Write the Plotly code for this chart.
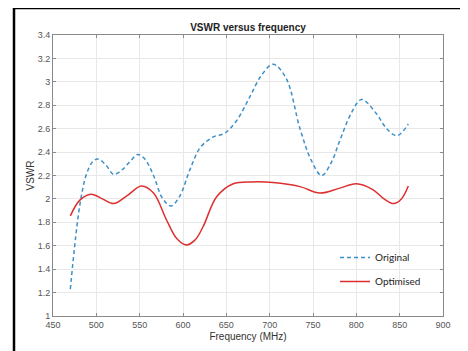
import plotly.graph_objects as go

# ---- data ----
freq_orig = [470, 481, 489, 496, 502, 511, 520, 530, 540, 548, 556, 566, 576, 586, 596, 608, 620, 635, 648, 662, 677, 690, 704, 719, 735, 748, 760, 771, 781, 794, 806, 823, 835, 847, 860]
vswr_orig = [1.23, 1.95, 2.22, 2.32, 2.34, 2.29, 2.21, 2.25, 2.33, 2.38, 2.34, 2.2, 2.01, 1.94, 2.02, 2.25, 2.44, 2.53, 2.56, 2.67, 2.87, 3.05, 3.15, 3.03, 2.6, 2.33, 2.2, 2.31, 2.5, 2.73, 2.85, 2.73, 2.6, 2.54, 2.64]

freq_opt = [470, 481, 494, 507, 520, 536, 552, 566, 581, 593, 604, 614, 623, 639, 658, 680, 704, 735, 758, 780, 800, 819, 832, 843, 852, 860]
vswr_opt = [1.855, 1.99, 2.04, 2.0, 1.96, 2.03, 2.11, 2.05, 1.82, 1.66, 1.607, 1.65, 1.76, 2.02, 2.13, 2.145, 2.14, 2.105, 2.05, 2.09, 2.13, 2.08, 2.0, 1.96, 2.0, 2.11]

x_ticks = [450, 500, 550, 600, 650, 700, 750, 800, 850, 900]
y_ticks = [1, 1.2, 1.4, 1.6, 1.8, 2, 2.2, 2.4, 2.6, 2.8, 3, 3.2, 3.4]
y_labels = ["1", "1.2", "1.4", "1.6", "1.8", "2", "2.2", "2.4", "2.6", "2.8", "3", "3.2", "3.4"]

# page has an 8px body margin, so the figure starts at (8, 8)
OFF = 8
W, H = 468 - OFF, 351 - OFF
L, T = 53 - OFF, 35 - OFF
pw, ph = 390, 281
R = W - L - pw
B = H - T - ph

def px_x(p):  # page pixel -> paper x
    return (p - OFF - L) / pw

def px_y(p):  # page pixel -> paper y
    return (OFF + T + ph - p) / ph

fig = go.Figure()
fig.add_trace(go.Scatter(
    x=freq_orig, y=vswr_orig, mode="lines", name="Original",
    line=dict(color="#3d8fc8", width=1.5, dash="4px,3px", shape="spline", smoothing=1.0),
    legendgroup="a",
))
fig.add_trace(go.Scatter(
    x=freq_opt, y=vswr_opt, mode="lines", name="Optimised",
    line=dict(color="#dc2f2f", width=1.5, shape="spline", smoothing=1.0),
    legendgroup="b",
))

axis_common = dict(
    showgrid=True, gridcolor="#e8e8e8", gridwidth=1,
    showline=True, linecolor="#8a8a8a", linewidth=1, mirror="ticks",
    ticks="inside", ticklen=3, tickcolor="#8a8a8a",
    tickfont=dict(family="Liberation Sans, Arial", size=9, color="#555555"),
    zeroline=False, automargin=False,
)

fig.update_layout(
    width=W, height=H,
    margin=dict(l=L, r=R, t=T, b=B),
    paper_bgcolor="white", plot_bgcolor="white",
    title=dict(text="<b>VSWR versus frequency</b>", x=(248 - OFF) / W, xanchor="center",
               y=1 - (27 - OFF) / H, yanchor="middle",
               font=dict(family="Liberation Sans, Arial", size=10, color="#222222")),
    xaxis=dict(range=[450, 900], tickvals=x_ticks,
               title=dict(text="Frequency (MHz)", standoff=4,
                          font=dict(family="Liberation Sans, Arial", size=10, color="#333333")),
               **axis_common),
    yaxis=dict(range=[1, 3.4], tickvals=y_ticks, ticktext=y_labels,
               title=dict(text="VSWR", standoff=1,
                          font=dict(family="Liberation Sans, Arial", size=10, color="#333333")),
               **axis_common),
    showlegend=True,
    legend=dict(x=px_x(335), y=px_y(243), xanchor="left", yanchor="top",
                bgcolor="rgba(0,0,0,0)", borderwidth=0,
                font=dict(family="Lato, Open Sans", size=10, color="#222222"),
                itemwidth=30, tracegroupgap=5, traceorder="grouped"),
    shapes=[
        dict(type="rect", xref="paper", yref="paper", layer="between",
             x0=px_x(332), x1=px_x(434), y0=px_y(310), y1=px_y(243),
             fillcolor="white", line=dict(width=0)),
        dict(type="line", xref="paper", yref="paper",
             x0=px_x(14), x1=px_x(470), y0=px_y(8), y1=px_y(8),
             line=dict(color="black", width=2.5)),
        dict(type="line", xref="paper", yref="paper",
             x0=px_x(14), x1=px_x(14), y0=px_y(8), y1=px_y(355),
             line=dict(color="black", width=2.5)),
    ],
)

fig.write_html("out.html")
